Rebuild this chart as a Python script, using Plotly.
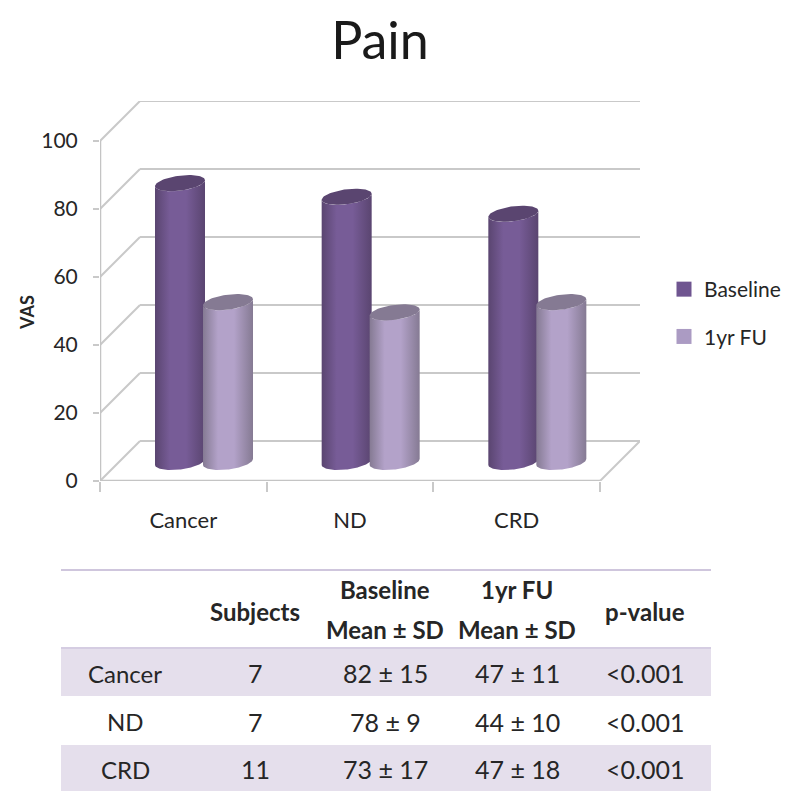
import numpy as np
import plotly.graph_objects as go

categories = ["Cancer", "ND", "CRD"]
baseline = [82, 78, 73]
followup = [47, 44, 47]
series_names = ["Baseline", "1yr FU"]
y_ticks = [0, 20, 40, 60, 80, 100]

table_header = ["Subjects", "Baseline<br>Mean ± SD", "1yr FU<br>Mean ± SD", "p-value"]
table_subjects = ["7", "7", "11"]
table_baseline = ["82 ± 15", "78 ± 9", "73 ± 17"]
table_followup = ["47 ± 11", "44 ± 10", "47 ± 18"]
table_p = ["<0.001", "<0.001", "<0.001"]

W, H = 785, 791
FONT = "Lato"
TEXT = "#262626"
GRID = "#c9c9c9"
PX_X = 500 / 3.0      # pixels per category
PX_Y = 3.4            # pixels per value unit
DEPTH_X = 40 / PX_X   # oblique depth of the chart box
DEPTH_Y = 40 / PX_Y
X0, Y0 = 100, 481
BASE = 5.6            # floor position of the cylinders
OFFS = [-0.02, 0.268]
RX, RY, TILT = 25 / PX_X, 7.5 / PX_Y, 3.0 / PX_Y


def line(xs, ys, width=2, color=GRID):
    return go.Scatter(x=xs, y=ys, mode="lines", line=dict(color=color, width=width),
                      hoverinfo="skip", showlegend=False, cliponaxis=False)


fig = go.Figure()
xl, xr = -0.5, 2.5
# back-wall grid lines and the left-wall slants
for v in y_ticks:
    fig.add_trace(line([xl + DEPTH_X, xr + DEPTH_X], [v + DEPTH_Y] * 2))
    fig.add_trace(line([xl, xl + DEPTH_X], [v, v + DEPTH_Y]))
# front edge, right floor edge, y axis line
fig.add_trace(line([xl, xr], [0, 0], 2.5, "#c4c4c4"))
fig.add_trace(line([xr, xr + DEPTH_X], [0, DEPTH_Y]))
fig.add_trace(line([xl, xl], [0, 100], 2.5, "#c4c4c4"))


def cylinder(cx, value, side, mid, cap):
    t = np.linspace(0, np.pi, 60)
    top = value + BASE
    # body: front arc of the top cap (left to right), then front arc of the base (right to left)
    xs = np.concatenate([cx - RX * np.cos(t), cx + RX * np.cos(t)])
    ys = np.concatenate([top - RY * np.sin(t) - TILT * np.cos(t),
                         BASE - RY * np.sin(t) + TILT * np.cos(t)])
    fig.add_trace(go.Scatter(
        x=xs, y=ys, mode="lines", line=dict(width=0), fill="toself",
        fillgradient=dict(type="horizontal",
                          colorscale=[[0, side], [0.3, mid], [0.62, mid], [1, side]]),
        hoverinfo="skip", showlegend=False))
    # top cap
    a = np.linspace(0, 2 * np.pi, 80)
    fig.add_trace(go.Scatter(
        x=cx + RX * np.cos(a), y=top + RY * np.sin(a) + TILT * np.cos(a),
        mode="lines", line=dict(width=0), fill="toself", fillcolor=cap,
        hoverinfo="skip", showlegend=False))


styles = [("#5a4570", "#775c97", "#5a4570"), ("#857a93", "#b3a2c9", "#857a93")]
for i, cat in enumerate(categories):
    cylinder(i + OFFS[0], baseline[i], *styles[0])
    cylinder(i + OFFS[1], followup[i], *styles[1])

# legend entries
for name, col in zip(series_names, ["#6f5590", "#ab9bc3"]):
    fig.add_trace(go.Scatter(x=[None], y=[None], mode="markers", name=name, legendgroup=name,
                             marker=dict(symbol="square", size=15, color=col)))

fig.update_xaxes(
    domain=[X0 / W, 640 / W], range=[xl, xr + DEPTH_X], showgrid=False, zeroline=False,
    tickmode="array", tickvals=list(range(len(categories))), ticktext=categories,
    ticks="outside", ticklen=20, tickcolor="rgba(0,0,0,0)",
    tickfont=dict(family=FONT, size=22, color=TEXT),
    minor=dict(tickmode="array", tickvals=[-0.5, 0.5, 1.5, 2.5], ticks="outside",
               ticklen=10, tickwidth=2, tickcolor=GRID, showgrid=False),
)
fig.update_yaxes(
    domain=[(H - Y0) / H, (H - 101) / H], range=[0, 100 + DEPTH_Y], showgrid=False, zeroline=False,
    tickmode="array", tickvals=y_ticks, ticks="outside", ticklen=6, tickwidth=2, tickcolor=GRID,
    ticklabelstandoff=11, tickfont=dict(family=FONT, size=21, color=TEXT),
)

# table built from the lists above
col_edges = [61, 190, 320, 451, 583, 711]
col_centres = [125, 255, 385, 517, 645]
row_edges = [648, 696, 745, 791]
shapes = []
for r in (0, 2):
    shapes.append(dict(type="rect", xref="paper", yref="paper", x0=col_edges[0] / W, x1=col_edges[-1] / W,
                       y0=1 - row_edges[r + 1] / H, y1=1 - row_edges[r] / H,
                       fillcolor="#e5dfec", line=dict(width=0), layer="below"))
for y, c in ((570, "#cfc6dd"), (648, "#d5cde2")):
    shapes.append(dict(type="line", xref="paper", yref="paper", x0=col_edges[0] / W, x1=col_edges[-1] / W,
                       y0=1 - y / H, y1=1 - y / H, line=dict(color=c, width=2)))

annotations = []


def cell(px, py, text, size=25):
    annotations.append(dict(xref="paper", yref="paper", x=px / W, y=1 - py / H, text=text, showarrow=False,
                            xanchor="center", yanchor="middle", align="center",
                            font=dict(family=FONT, size=size, color=TEXT)))


for hdr, px in zip(table_header, col_centres[1:]):
    parts = hdr.split("<br>")
    if len(parts) == 1:
        cell(px, 611, f"<b>{parts[0]}</b>", 24)
    else:
        cell(px, 589, f"<b>{parts[0]}</b>", 24)
        cell(px, 629, f"<b>{parts[1]}</b>", 24)
columns = [categories, table_subjects, table_baseline, table_followup, table_p]
for c_i, (col, px) in enumerate(zip(columns, col_centres)):
    for r, txt in enumerate(col):
        cell(px, (row_edges[r] + row_edges[r + 1]) / 2 + 1, txt.replace("<", "&lt;"), 24 if c_i == 0 else 25)

# y-axis title as a positioned label
annotations.append(dict(xref="paper", yref="paper", x=27 / W, y=1 - 313 / H, text="<b>VAS</b>", textangle=-90,
                        xanchor="center", yanchor="middle", showarrow=False,
                        font=dict(family=FONT, size=18, color=TEXT)))

fig.update_layout(
    width=W, height=H, margin=dict(l=0, r=0, t=0, b=0, autoexpand=False),
    paper_bgcolor="white", plot_bgcolor="white",
    title=dict(text="Pain", x=380 / W, xanchor="center", y=1 - 41 / H, yanchor="middle",
               font=dict(family=FONT, size=52, color="#1a1a1a")),
    legend=dict(x=664 / W, y=1 - 269 / H, xanchor="left", yanchor="top", tracegroupgap=17,
                font=dict(family=FONT, size=21, color=TEXT), itemwidth=30, bgcolor="rgba(0,0,0,0)"),
    shapes=shapes, annotations=annotations,
)
fig.write_html("out.html", config={"displayModeBar": False},
               post_script="document.body.style.margin='0';")
